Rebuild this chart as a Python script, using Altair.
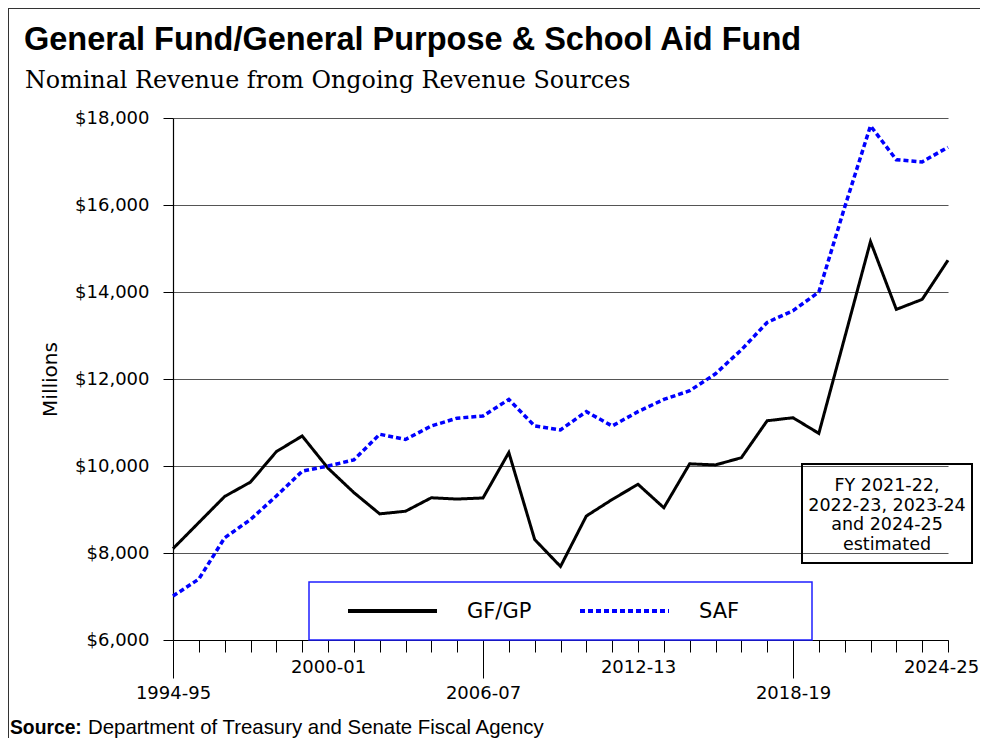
import json
import altair as alt
import pandas as pd

# ---------------- data ----------------
years = ["1994-95", "1995-96", "1996-97", "1997-98", "1998-99", "1999-00",
         "2000-01", "2001-02", "2002-03", "2003-04", "2004-05", "2005-06",
         "2006-07", "2007-08", "2008-09", "2009-10", "2010-11", "2011-12",
         "2012-13", "2013-14", "2014-15", "2015-16", "2016-17", "2017-18",
         "2018-19", "2019-20", "2020-21", "2021-22", "2022-23", "2023-24",
         "2024-25"]
gfgp = [8100, 8700, 9300, 9630, 10330, 10690,
        9950, 9390, 8900, 8960, 9270, 9240,
        9265, 10310, 8310, 7690, 8850, 9230,
        9580, 9040, 10050, 10025, 10190, 11040,
        11110, 10750, 12950, 15160, 13600, 13830,
        14730]
saf = [7010, 7400, 8350, 8770, 9310, 9880,
       10000, 10140, 10730, 10610, 10920, 11100,
       11150, 11530, 10920, 10830, 11250, 10920,
       11250, 11530, 11730, 12120, 12670, 13300,
       13570, 14000, 15950, 17820, 17040, 16990,
       17330]
series_names = ["GF/GP", "SAF"]
y_ticks = [6000, 8000, 10000, 12000, 14000, 16000, 18000]
upper_labels = ["2000-01", "2012-13", "2024-25"]
lower_labels = ["1994-95", "2006-07", "2018-19"]

title_text = "General Fund/General Purpose & School Aid Fund"
subtitle_text = "Nominal Revenue from Ongoing Revenue Sources"
y_title = "Millions"
source_bold = "Source:"
source_text = "Department of Treasury and Senate Fiscal Agency"
note_lines = ["FY 2021-22,", "2022-23, 2023-24", "and 2024-25", "estimated"]

# ---------------- tables ----------------
df = pd.DataFrame({
    "year": years * 2,
    "value": gfgp + saf,
    "series": [series_names[0]] * len(years) + [series_names[1]] * len(years),
})
one = pd.DataFrame({"k": [0]})

W, H = 775, 522
AX_FONT = "DejaVu Sans"

color_scale = alt.Scale(domain=series_names, range=["#000000", "#0000ff"])
dash_scale = alt.Scale(domain=series_names, range=[[1, 0], [5, 3]])
width_scale = alt.Scale(domain=series_names, range=[3, 3.5])

shown = json.dumps(upper_labels + lower_labels)
lower = json.dumps(lower_labels)
last = json.dumps(years[-1])

x_axis = alt.Axis(
    title=None,
    labelExpr=f"indexof({shown}, datum.value) >= 0 ? datum.value : ''",
    labelAngle=0,
    labelFont=AX_FONT,
    labelFontSize=18,
    labelColor="black",
    labelPadding=6,
    labelOverlap=False,
    labelBound=False,
    labelOffset={"condition": {"test": f"datum.value == {last}", "value": -7}, "value": 0},
    tickSize={"condition": {"test": f"indexof({lower}, datum.value) >= 0", "value": 38}, "value": 12},
    tickColor="black",
    tickWidth=1,
    domainColor="black",
    domainWidth=1,
    grid=False,
)
y_axis = alt.Axis(
    values=y_ticks,
    format="$,d",
    labelFont=AX_FONT,
    labelFontSize=18,
    labelColor="black",
    labelPadding=14,
    tickSize=10,
    tickColor="black",
    domainColor="black",
    domainWidth=1.2,
    grid=True,
    gridColor="#555555",
    gridWidth=1.2,
    title=y_title,
    titleFont=AX_FONT,
    titleFontSize=20,
    titleFontWeight="normal",
    titleColor="black",
    titleAngle=270,
    titleAlign="center",
    titleBaseline="middle",
    titleX=-123,
    titleY=H / 2,
)

x_enc = alt.X("year:O", sort=years, scale=alt.Scale(type="point", domain=years, padding=0), axis=x_axis)
y_enc = alt.Y("value:Q", scale=alt.Scale(domain=[6000, 18000], nice=False, zero=False), axis=y_axis)

lines = alt.Chart(df).mark_line(strokeCap="butt").encode(
    x=x_enc,
    y=y_enc,
    color=alt.Color("series:N", scale=color_scale, legend=None),
    strokeDash=alt.StrokeDash("series:N", scale=dash_scale, legend=None),
    strokeWidth=alt.StrokeWidth("series:N", scale=width_scale, legend=None),
)

# ---------------- custom legend ----------------
legend_box = alt.Chart(one).mark_rect(fill="white", stroke="#1f1fff", strokeWidth=1.5).encode(
    x=alt.value(136), x2=alt.value(639), y=alt.value(464), y2=alt.value(522)
)
legend_layers = [legend_box]
legend_x0 = [175, 407]
for name, x0 in zip(series_names, legend_x0):
    d = pd.DataFrame({"series": [name]})
    legend_layers.append(
        alt.Chart(d).mark_rule(strokeCap="butt").encode(
            x=alt.value(x0), x2=alt.value(x0 + 89), y=alt.value(493),
            color=alt.Color("series:N", scale=color_scale, legend=None),
            strokeDash=alt.StrokeDash("series:N", scale=dash_scale, legend=None),
            strokeWidth=alt.value(4),
        )
    )
    legend_layers.append(
        alt.Chart(d).mark_text(align="left", baseline="middle", font=AX_FONT, fontSize=21, color="black").encode(
            x=alt.value(x0 + 119), y=alt.value(494), text="series:N"
        )
    )

# ---------------- annotation ----------------
note_box = alt.Chart(one).mark_rect(fillOpacity=0, stroke="black", strokeWidth=2).encode(
    x=alt.value(629), x2=alt.value(799), y=alt.value(346), y2=alt.value(445)
)
note_text = alt.Chart(one).mark_text(
    align="center", baseline="alphabetic", font=AX_FONT, fontSize=17.5, lineHeight=19.7, color="black"
).encode(x=alt.value(714), y=alt.value(373), text=alt.value(note_lines))

# ---------------- titles / source / frame ----------------
title = alt.Chart(pd.DataFrame({"t": [title_text]})).mark_text(
    align="left", baseline="alphabetic", font="Liberation Sans",
    fontSize=32.5, fontWeight="bold", color="black"
).encode(x=alt.value(-149), y=alt.value(-68), text="t:N")
subtitle = alt.Chart(pd.DataFrame({"t": [subtitle_text]})).mark_text(
    align="left", baseline="alphabetic", font="DejaVu Serif", fontSize=23.8, color="black"
).encode(x=alt.value(-148), y=alt.value(-30), text="t:N")
src1 = alt.Chart(pd.DataFrame({"t": [source_bold]})).mark_text(
    align="left", baseline="alphabetic", font="Liberation Sans",
    fontSize=19.3, fontWeight="bold", color="black"
).encode(x=alt.value(-163), y=alt.value(616), text="t:N")
src2 = alt.Chart(pd.DataFrame({"t": [source_text]})).mark_text(
    align="left", baseline="alphabetic", font="Liberation Sans",
    fontSize=20.4, color="black"
).encode(x=alt.value(-85), y=alt.value(616), text="t:N")
frame_top = alt.Chart(one).mark_rule(color="#333333", strokeWidth=2).encode(
    x=alt.value(-166), x2=alt.value(830), y=alt.value(-110)
)
frame_left = alt.Chart(one).mark_rule(color="#333333", strokeWidth=2).encode(
    x=alt.value(-165), y=alt.value(-111), y2=alt.value(640)
)

chart = alt.layer(
    lines, *legend_layers, note_box, note_text, title, subtitle, src1, src2, frame_top, frame_left
).properties(
    width=W, height=H,
    padding={"left": 165, "top": 110, "right": 32, "bottom": 98},
    autosize=alt.AutoSizeParams(type="none"),
    background="white",
).configure_view(strokeWidth=0)

chart.save("out.html", embed_options={"renderer": "svg", "actions": False})
